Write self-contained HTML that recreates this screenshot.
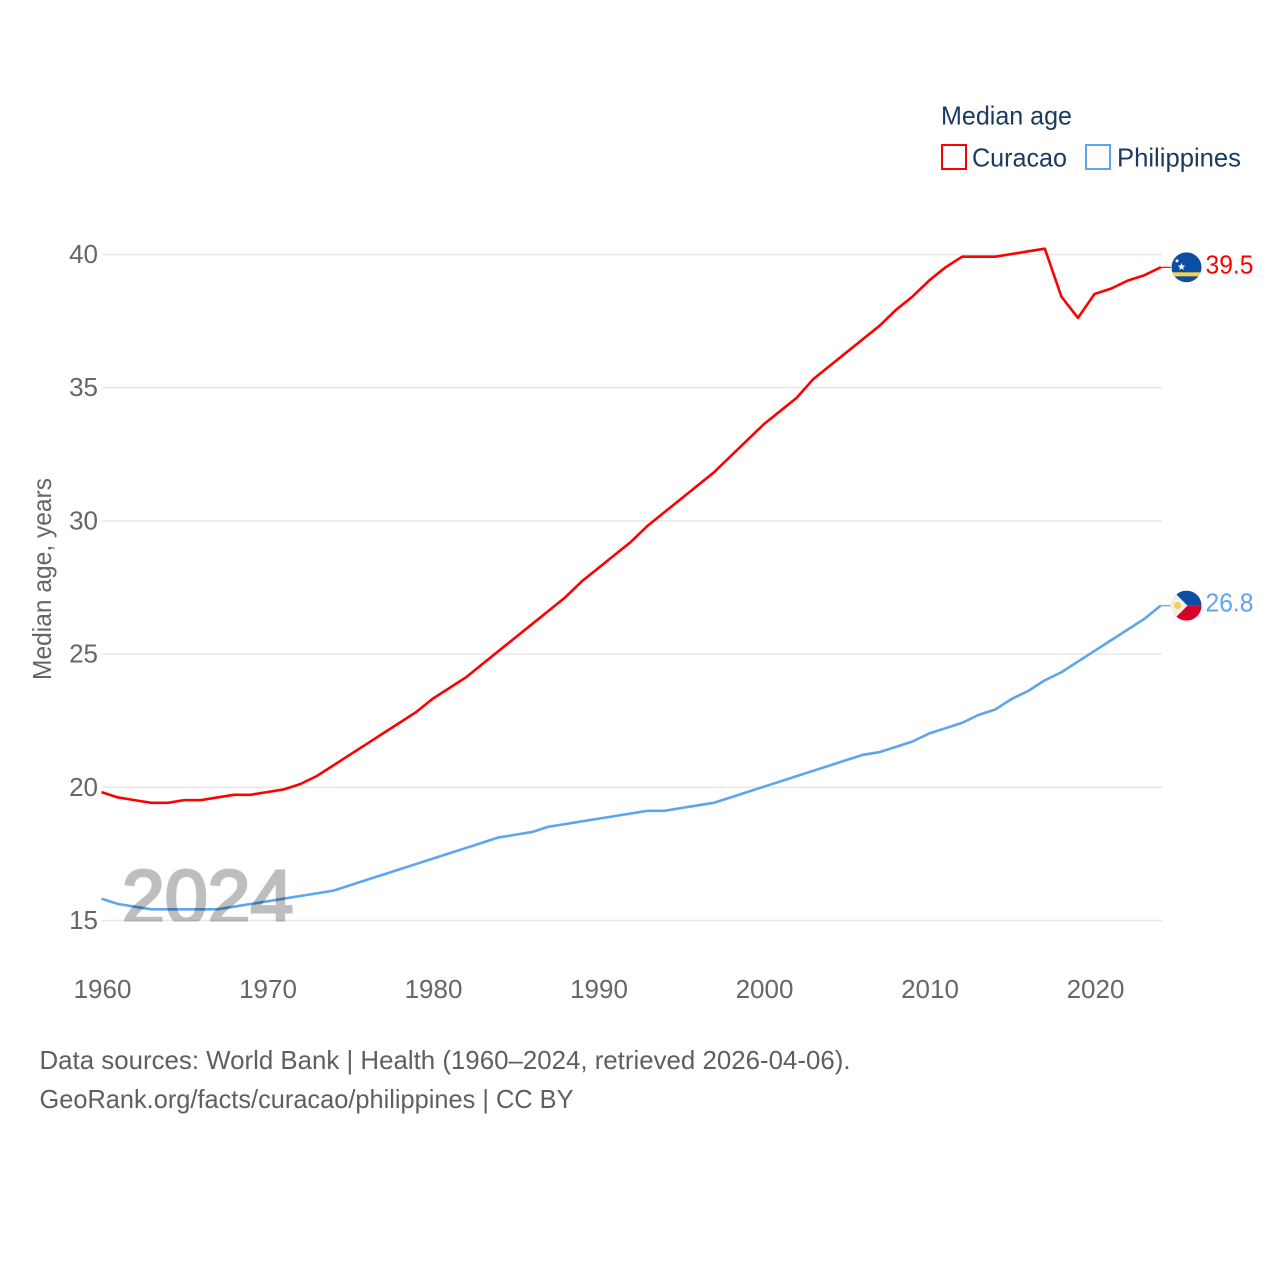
<!DOCTYPE html>
<html lang="en">
<head>
<meta charset="utf-8">
<title>Median age: Curacao and Philippines</title>
<style>
html,body{margin:0;padding:0;background:#fff;}
svg{display:block;}
text{font-family:"Liberation Sans",sans-serif;font-size:26px;}
.tick{fill:#666;}
.foot{fill:#5f5f5f;}
.leg{fill:#1b3a5f;}
</style>
</head>
<body>
<svg id="chart" width="1280" height="1280" viewBox="0 0 1280 1280" xmlns="http://www.w3.org/2000/svg">
  <defs>
    <clipPath id="plot-clip"><rect x="0" y="200" width="1280" height="721.5"/></clipPath>
    <clipPath id="flag-clip-a"><circle cx="15" cy="15" r="15"/></clipPath>
    <clipPath id="flag-clip-b"><circle cx="15" cy="15" r="15"/></clipPath>
  </defs>
  <text class="leg" x="941" y="124.500" textLength="131" lengthAdjust="spacingAndGlyphs">Median age</text>
  <g>
    <rect x="942" y="145" width="24" height="24" fill="none" stroke="#ff0000" stroke-width="2"/>
    <text class="leg" x="972" y="166.500" textLength="95" lengthAdjust="spacingAndGlyphs">Curacao</text>
  </g>
  <g>
    <rect x="1086" y="145" width="24" height="24" fill="none" stroke="#5da5ef" stroke-width="2"/>
    <text class="leg" x="1117" y="166.500" textLength="124" lengthAdjust="spacingAndGlyphs">Philippines</text>
  </g>
  <g id="grid"></g>
  <g id="yticks"></g>
  <g id="xticks"></g>
  <text class="tick" transform="translate(51,680) rotate(-90)" x="0" y="0" textLength="202" lengthAdjust="spacingAndGlyphs">Median age, years</text>
  <g id="series"></g>
  <g clip-path="url(#plot-clip)">
    <text x="122" y="924" opacity="0.25" style="font-size:77px;fill:#000;stroke:#000;stroke-width:3px">2024</text>
  </g>
  <g id="flag-curacao">
    <g clip-path="url(#flag-clip-a)">
      <rect width="30" height="30" fill="#0b4ea2"/>
      <rect y="20" width="30" height="4" fill="#f9d24a"/>
      <polygon points="10,10.5 11,13.2 13.8,13.3 11.6,15 12.4,17.7 10,16.1 7.6,17.7 8.4,15 6.2,13.3 9,13.2" fill="#fff"/>
      <circle cx="5.5" cy="8.5" r="1.5" fill="#fff"/>
    </g>
  </g>
  <g id="flag-philippines">
    <g clip-path="url(#flag-clip-b)">
      <rect width="30" height="15" fill="#0b4ea2"/>
      <rect y="15" width="30" height="15" fill="#d80027"/>
      <polygon points="0,0 15,15 0,30" fill="#f0f0f0" transform="translate(1,0)"/>
      <rect width="2" height="30" fill="#f0f0f0"/>
      <circle cx="6" cy="15" r="3.6" fill="#f7cf5a"/>
    </g>
  </g>
  <g id="end-labels"></g>
  <text class="foot" x="39.500" y="1069" textLength="811" lengthAdjust="spacingAndGlyphs">Data sources: World Bank | Health (1960–2024, retrieved 2026-04-06).</text>
  <text class="foot" x="39.500" y="1108" textLength="534" lengthAdjust="spacingAndGlyphs">GeoRank.org/facts/curacao/philippines | CC BY</text>
</svg>
<script>
const startYear = 1960;
const curacaoValues = [19.8,19.6,19.5,19.4,19.4,19.5,19.5,19.6,19.7,19.7,19.8,19.9,20.1,20.4,20.8,21.2,21.6,22.0,22.4,22.8,23.3,23.7,24.1,24.6,25.1,25.6,26.1,26.6,27.1,27.7,28.2,28.7,29.2,29.8,30.3,30.8,31.3,31.8,32.4,33.0,33.6,34.1,34.6,35.3,35.8,36.3,36.8,37.3,37.9,38.4,39.0,39.5,39.9,39.9,39.9,40.0,40.1,40.2,38.4,37.6,38.5,38.7,39.0,39.2,39.5];
const philippinesValues = [15.8,15.6,15.5,15.4,15.4,15.4,15.4,15.4,15.5,15.6,15.7,15.8,15.9,16.0,16.1,16.3,16.5,16.7,16.9,17.1,17.3,17.5,17.7,17.9,18.1,18.2,18.3,18.5,18.6,18.7,18.8,18.9,19.0,19.1,19.1,19.2,19.3,19.4,19.6,19.8,20.0,20.2,20.4,20.6,20.8,21.0,21.2,21.3,21.5,21.7,22.0,22.2,22.4,22.7,22.9,23.3,23.6,24.0,24.3,24.7,25.1,25.5,25.9,26.3,26.8];
const yTickValues = [15,20,25,30,35,40];
const xTickValues = [1960,1970,1980,1990,2000,2010,2020];

const NS = 'http://www.w3.org/2000/svg';
function xScale(year){ return 101.5 + (year - 1960) * 16.55; }
function yScale(v){ return 920.5 - (v - 15) * 26.64; }
function make(tag, parent){
  const el = document.createElementNS(NS, tag);
  document.getElementById(parent).appendChild(el);
  return el;
}

yTickValues.forEach(function(v){
  const line = make('line', 'grid');
  
  
  line.setAttribute('x1', 102);
  line.setAttribute('x2', 1162);
  line.setAttribute('y1', yScale(v));
  line.setAttribute('y2', yScale(v));
  line.setAttribute('stroke', '#e8e8e8');
  line.setAttribute('stroke-width', 1.5);
  const label = make('text', 'yticks');
  
  
  label.setAttribute('class', 'tick');
  label.setAttribute('x', 98);
  label.setAttribute('y', yScale(v) + 8.5);
  label.setAttribute('text-anchor', 'end');
  label.textContent = String(v);
});

xTickValues.forEach(function(year){
  const label = make('text', 'xticks');
  
  
  label.setAttribute('class', 'tick');
  label.setAttribute('x', xScale(year) + 1);
  label.setAttribute('y', 998);
  label.setAttribute('text-anchor', 'middle');
  label.textContent = String(year);
});

function drawSeries(key, values, color, flagId){
  const points = values.map(function(v, i){
    return xScale(startYear + i).toFixed(2) + ',' + (yScale(v) - 0.5).toFixed(2);
  });
  const path = make('polyline', 'series');
  
  
  path.setAttribute('points', points.join(' '));
  path.setAttribute('fill', 'none');
  path.setAttribute('stroke', color);
  path.setAttribute('stroke-width', 2.6);
  path.setAttribute('stroke-linejoin', 'round');

  const last = values[values.length - 1];
  const lastX = xScale(startYear + values.length - 1);
  const lastY = yScale(last);
  const connector = make('line', 'series');
  
  
  connector.setAttribute('x1', lastX);
  connector.setAttribute('x2', lastX + 10);
  connector.setAttribute('y1', lastY - 0.5);
  connector.setAttribute('y2', lastY - 0.5);
  connector.setAttribute('stroke', color);
  connector.setAttribute('stroke-width', 1.2);

  document.getElementById(flagId).setAttribute('transform', 'translate(1171.500,' + (lastY - 15.5) + ')');

  const label = make('text', 'end-labels');
  
  
  label.setAttribute('x', 1205.5);
  label.setAttribute('y', lastY + 5.5);
  label.setAttribute('fill', color);
  label.setAttribute('textLength', 48);
  label.setAttribute('lengthAdjust', 'spacingAndGlyphs');
  label.textContent = last.toFixed(1);
}

drawSeries('curacao', curacaoValues, '#ff0000', 'flag-curacao');
drawSeries('philippines', philippinesValues, '#5da5ef', 'flag-philippines');
</script>
</body>
</html>
